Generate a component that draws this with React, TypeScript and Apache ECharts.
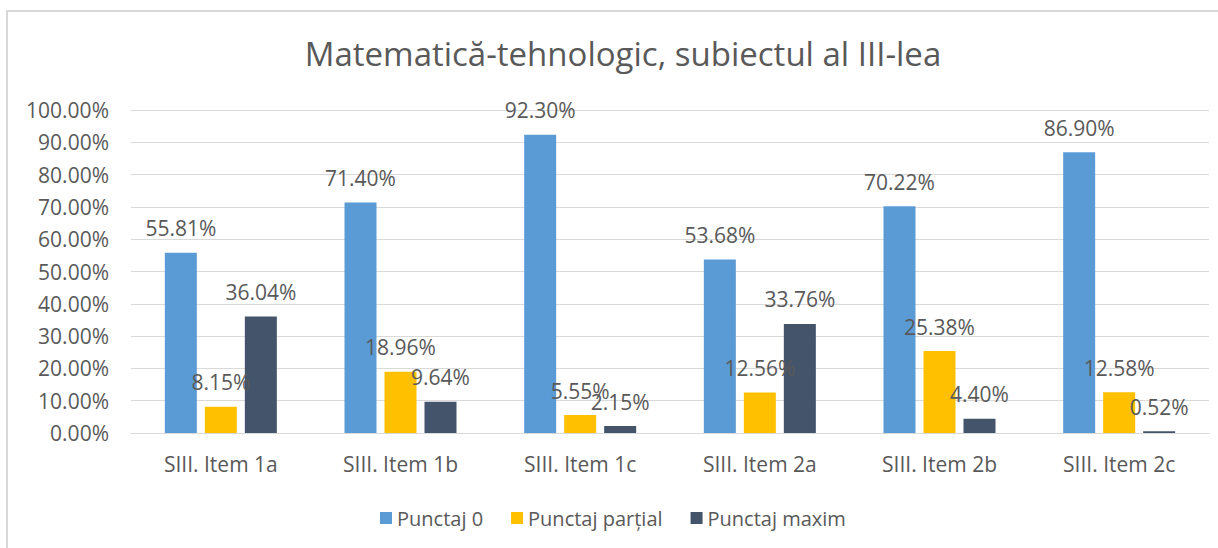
import React, { useEffect, useRef } from "react";
import * as echarts from "echarts";

const categories = [
  "SIII. Item 1a",
  "SIII. Item 1b",
  "SIII. Item 1c",
  "SIII. Item 2a",
  "SIII. Item 2b",
  "SIII. Item 2c",
];
const punctaj0 = [55.81, 71.4, 92.3, 53.68, 70.22, 86.9];
const punctajPartial = [8.15, 18.96, 5.55, 12.56, 25.38, 12.58];
const punctajMaxim = [36.04, 9.64, 2.15, 33.76, 4.4, 0.52];
const seriesNames = ["Punctaj 0", "Punctaj parțial", "Punctaj maxim"];
const seriesColors = ["#5B9BD5", "#FFC000", "#44546A"];
const titleText = "Matematică-tehnologic, subiectul al III-lea";

const FONT = "'Open Sans', 'Noto Sans', sans-serif";
const TEXT = "#595959";

export default function App() {
  const ref = useRef<HTMLDivElement>(null);
  useEffect(() => {
    if (!ref.current) return;
    const chart = echarts.init(ref.current, undefined, { renderer: "svg" });
    const data = [punctaj0, punctajPartial, punctajMaxim];
    chart.setOption({
      animation: false,
      backgroundColor: "#ffffff",
      textStyle: { fontFamily: FONT, color: TEXT },
      title: {
        text: titleText,
        left: 618,
        textAlign: "center",
        top: 32,
        textStyle: { fontFamily: FONT, fontSize: 33, fontWeight: "normal", color: TEXT },
      },
      graphic: [
        {
          type: "rect",
          shape: { x: 7, y: 11, width: 1230, height: 560 },
          style: { fill: "none", stroke: "#d9d9d9", lineWidth: 2 },
          silent: true,
          z: -1,
        },
      ],
      legend: {
        data: seriesNames,
        left: 375,
        top: 503,
        itemWidth: 12,
        itemHeight: 12,
        itemGap: 28,
        icon: "rect",
        textStyle: { fontFamily: FONT, fontSize: 20, color: TEXT },
      },
      grid: { left: 131, right: 9, top: 110, bottom: 115 },
      xAxis: {
        type: "category",
        data: categories,
        axisLine: { lineStyle: { color: "#d9d9d9", width: 1 } },
        axisTick: { show: false },
        axisLabel: { fontFamily: FONT, fontSize: 21, color: TEXT, margin: 20 },
      },
      yAxis: {
        type: "value",
        min: 0,
        max: 100,
        interval: 10,
        axisLine: { show: false },
        axisTick: { show: false },
        splitLine: { lineStyle: { color: "#d9d9d9", width: 1 } },
        axisLabel: {
          fontFamily: FONT,
          fontSize: 21,
          color: TEXT,
          margin: 22,
          formatter: (v: number) => v.toFixed(2) + "%",
        },
      },
      series: seriesNames.map((name, i) => ({
        name,
        type: "bar",
        data: data[i],
        barWidth: 32,
        barGap: "25%",
        itemStyle: { color: seriesColors[i] },
        label: {
          show: true,
          position: "top",
          distance: 14,
          fontFamily: FONT,
          fontSize: 21,
          color: TEXT,
          formatter: (p: any) => Number(p.value).toFixed(2) + "%",
        },
      })),
    });
    return () => chart.dispose();
  }, []);
  return (
    <div
      ref={ref}
      style={{ position: "fixed", left: 0, top: 0, width: 1218, height: 548 }}
    />
  );
}
